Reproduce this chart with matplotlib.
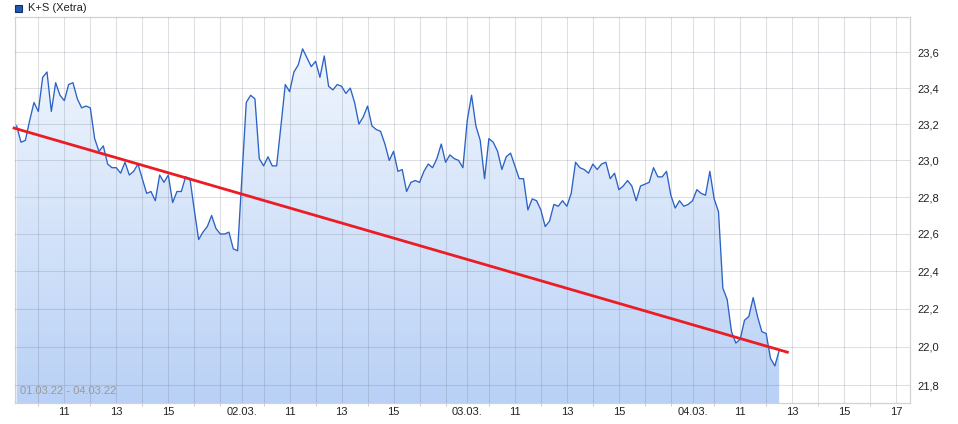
import numpy as np
import matplotlib
matplotlib.use('Agg')
import matplotlib.pyplot as plt
from matplotlib.colors import to_rgb
from matplotlib.patches import Rectangle
from matplotlib.ticker import FixedLocator, FixedFormatter, NullFormatter, NullLocator

plt.rcParams['font.family'] = ['Liberation Sans', 'DejaVu Sans']

# K+S (Xetra), Kurse im 10-Minuten-Takt ab 9:10 Uhr, 52 Werte pro Handelstag
tag_01_03 = [23.19, 23.10, 23.11, 23.22, 23.32, 23.27, 23.46, 23.49, 23.27, 23.43,
             23.36, 23.33, 23.42, 23.43, 23.34, 23.29, 23.30, 23.29, 23.12, 23.05,
             23.08, 22.98, 22.96, 22.96, 22.93, 22.99, 22.92, 22.94, 22.98, 22.90,
             22.82, 22.83, 22.78, 22.92, 22.88, 22.92, 22.77, 22.83, 22.83, 22.91,
             22.90, 22.73, 22.57, 22.61, 22.64, 22.70, 22.63, 22.60, 22.60, 22.61,
             22.52, 22.51]
tag_02_03 = [22.91, 23.32, 23.36, 23.34, 23.01, 22.97, 23.02, 22.97, 22.97, 23.19,
             23.42, 23.38, 23.49, 23.53, 23.62, 23.57, 23.52, 23.55, 23.46, 23.58,
             23.41, 23.39, 23.42, 23.41, 23.37, 23.40, 23.32, 23.20, 23.24, 23.30,
             23.19, 23.17, 23.16, 23.09, 23.00, 23.05, 22.94, 22.95, 22.83, 22.88,
             22.89, 22.88, 22.94, 22.98, 22.96, 23.01, 23.09, 22.99, 23.03, 23.01,
             23.00, 22.96]
tag_03_03 = [23.22, 23.36, 23.19, 23.11, 22.90, 23.12, 23.10, 23.05, 22.95, 23.02,
             23.04, 22.97, 22.90, 22.90, 22.73, 22.79, 22.78, 22.73, 22.64, 22.67,
             22.76, 22.75, 22.78, 22.75, 22.82, 22.99, 22.96, 22.95, 22.93, 22.98,
             22.95, 22.98, 22.99, 22.90, 22.93, 22.84, 22.86, 22.89, 22.86, 22.78,
             22.86, 22.87, 22.88, 22.96, 22.91, 22.91, 22.94, 22.81, 22.74, 22.78,
             22.75, 22.76]
tag_04_03 = [22.78, 22.84, 22.82, 22.81, 22.94, 22.79, 22.72, 22.31, 22.25, 22.08,
             22.02, 22.04, 22.14, 22.16, 22.26, 22.16, 22.08, 22.07, 21.94, 21.90,
             21.98]

tage = ['01.03.', '02.03.', '03.03.', '04.03.']
schritte_pro_tag = 52          # 9:10 bis 17:40

# Trendlinie (Start-/Endpunkt in Schritten und Kurs)
trend_x = [-0.9, 178.2]
trend_y = [23.18, 21.97]

y_ticks = [21.8, 22.0, 22.2, 22.4, 22.6, 22.8, 23.0, 23.2, 23.4, 23.6]
# beschriftete Stunden je Tag, Tagesbeginn bekommt das Datum
stunden_beschriftet = [[11, 13, 15], [11, 13, 15], [11, 13, 15], [11, 13, 15, 17]]
stunden_alle = list(range(10, 18))

kurse = np.array(tag_01_03 + tag_02_03 + tag_03_03 + tag_04_03)
x = np.arange(len(kurse))


def pos(tag, stunde):
    return tag * schritte_pro_tag + 6 * (stunde - 9) - 1


major_pos, major_lab, minor_pos = [], [], []
for d in range(len(tage)):
    if d > 0:
        major_pos.append(d * schritte_pro_tag)
        major_lab.append(tage[d])
    for h in stunden_alle:
        if h in stunden_beschriftet[d]:
            major_pos.append(pos(d, h))
            major_lab.append(str(h))
        else:
            minor_pos.append(pos(d, h))

fig = plt.figure(figsize=(9.58, 4.24), dpi=100)
ax = fig.add_axes([14.5 / 958, 1 - 402.5 / 424, (910 - 14.5) / 958, (402.5 - 17) / 424])
ax.set_yscale('log')
ax.set_xlim(-0.5, 206.2)
ax.set_ylim(21.71, 23.8)

# Flaeche mit vertikalem Verlauf
poly = ax.fill_between(x, kurse, 21.0, facecolor='none', edgecolor='none')
oben, unten = np.array(to_rgb('#f5f9fe')), np.array(to_rgb('#b9d1f6'))
t = np.linspace(0, 1, 256)[:, None, None]
verlauf = oben * (1 - t) + unten * t
img = ax.imshow(verlauf, extent=[0, 1, 0, 1], transform=ax.transAxes,
                aspect='auto', origin='upper', zorder=1)
img.set_clip_path(poly.get_paths()[0], transform=ax.transData)

ax.plot(x, kurse, color='#2b62c4', lw=0.95, zorder=3)
ax.plot(trend_x, trend_y, color='#ec1c24', lw=2.0, zorder=4, clip_on=False,
        solid_capstyle='butt')

# Achsen
ax.yaxis.tick_right()
ax.yaxis.set_major_locator(FixedLocator(y_ticks))
ax.yaxis.set_major_formatter(FixedFormatter([f"{v:.1f}".replace('.', ',') for v in y_ticks]))
ax.yaxis.set_minor_locator(NullLocator())
ax.yaxis.set_minor_formatter(NullFormatter())
ax.tick_params(axis='y', which='both', length=0, pad=5.5, labelsize=8, labelcolor='#222222')

ax.xaxis.set_major_locator(FixedLocator(major_pos))
ax.xaxis.set_major_formatter(FixedFormatter(major_lab))
ax.xaxis.set_minor_locator(FixedLocator(minor_pos))
ax.tick_params(axis='x', which='major', length=0, pad=3, labelsize=8, labelcolor='#222222')
ax.tick_params(axis='x', which='minor', length=2.5, width=0.7, color='#cccccc')

ax.set_axisbelow(False)
ax.grid(True, which='both', axis='x', color='#6a6f80', alpha=0.22, lw=0.75)
ax.grid(True, which='major', axis='y', color='#6a6f80', alpha=0.22, lw=0.75)
for s in ax.spines.values():
    s.set_color('#d2d2d2')
    s.set_linewidth(0.9)

ax.text(5 / 895.5, 7 / 385.5, '01.03.22 - 04.03.22', transform=ax.transAxes,
        fontsize=8, color='#9a9a9a', ha='left', va='bottom', zorder=5)

# Legende oben links
fig.patches.append(Rectangle((15 / 958, 1 - 12 / 424), 7 / 958, 7 / 424,
                             transform=fig.transFigure, facecolor='#2256b0',
                             edgecolor='#10306e', lw=0.8))
fig.text(28 / 958, 1 - 8 / 424, 'K+S (Xetra)', fontsize=8, color='#222222',
         ha='left', va='center')

fig.savefig('out.png', dpi=100, facecolor='white')
